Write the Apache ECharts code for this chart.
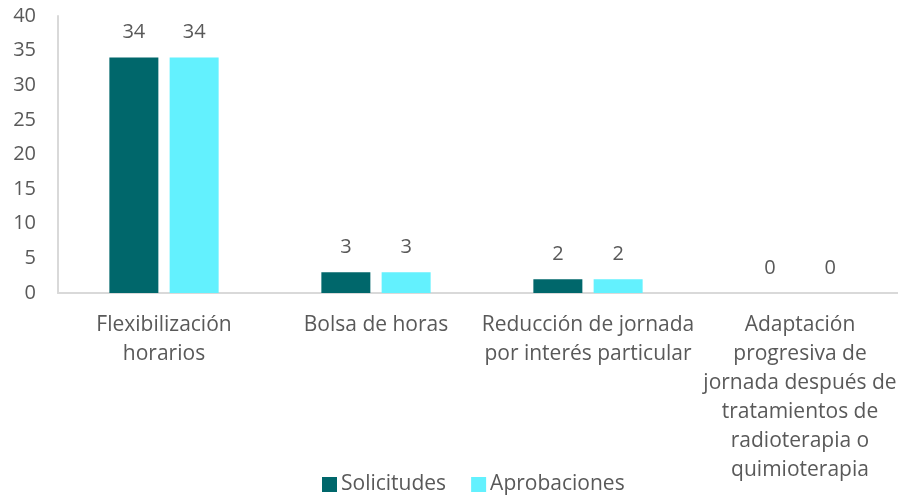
<!DOCTYPE html>
<html>
<head>
<meta charset="utf-8">
<script src="https://cdn.jsdelivr.net/npm/echarts@6/dist/echarts.min.js"></script>
<style>
  html, body { margin: 0; padding: 0; background: #fff; overflow: hidden; }
  #chart { width: 906px; height: 496px; }
</style>
</head>
<body>
<div id="chart"></div>
<script>
// ---- Data ----
const categories = [
  'Flexibilización\nhorarios',
  'Bolsa de horas',
  'Reducción de jornada\npor interés particular',
  'Adaptación\nprogresiva de\njornada después de\ntratamientos de\nradioterapia o\nquimioterapia'
];
const solicitudes = [34, 3, 2, 0];
const aprobaciones = [34, 3, 2, 0];

const textColor = '#595959';
const font = 'Open Sans';

const chart = echarts.init(document.getElementById('chart'));
const option = {
  animation: false,
  textStyle: { fontFamily: font },
  legend: {
    data: ['Solicitudes', 'Aprobaciones'],
    left: 317,
    top: 469,
    itemWidth: 15,
    itemHeight: 15,
    itemGap: 25,
    icon: 'rect',
    textStyle: { color: textColor, fontSize: 21, fontFamily: font, padding: [0, 0, 0, -1] }
  },
  grid: { left: 58, top: 16, right: 0, bottom: 203 },
  xAxis: {
    type: 'category',
    data: categories,
    axisLine: { lineStyle: { color: '#d9d9d9', width: 2 } },
    axisTick: { show: false },
    axisLabel: {
      color: textColor,
      fontSize: 21,
      fontFamily: font,
      lineHeight: 29,
      margin: 18,
      interval: 0
    }
  },
  yAxis: {
    type: 'value',
    min: 0,
    max: 40,
    interval: 5,
    axisLine: { show: true, lineStyle: { color: '#d9d9d9', width: 2 } },
    axisTick: { show: false },
    splitLine: { show: false },
    axisLabel: { color: textColor, fontSize: 20, fontFamily: font, margin: 22 }
  },
  series: [
    {
      name: 'Solicitudes',
      type: 'bar',
      data: solicitudes,
      barWidth: 49,
      barGap: '23%',
      itemStyle: { color: '#00676b' },
      label: { show: true, position: 'top', distance: 15, color: textColor, fontSize: 20, fontFamily: font }
    },
    {
      name: 'Aprobaciones',
      type: 'bar',
      data: aprobaciones,
      barWidth: 49,
      itemStyle: { color: '#63f1fe' },
      label: { show: true, position: 'top', distance: 15, color: textColor, fontSize: 20, fontFamily: font }
    }
  ]
};
chart.setOption(option);
window.addEventListener('resize', () => chart.resize());
</script>
</body>
</html>
